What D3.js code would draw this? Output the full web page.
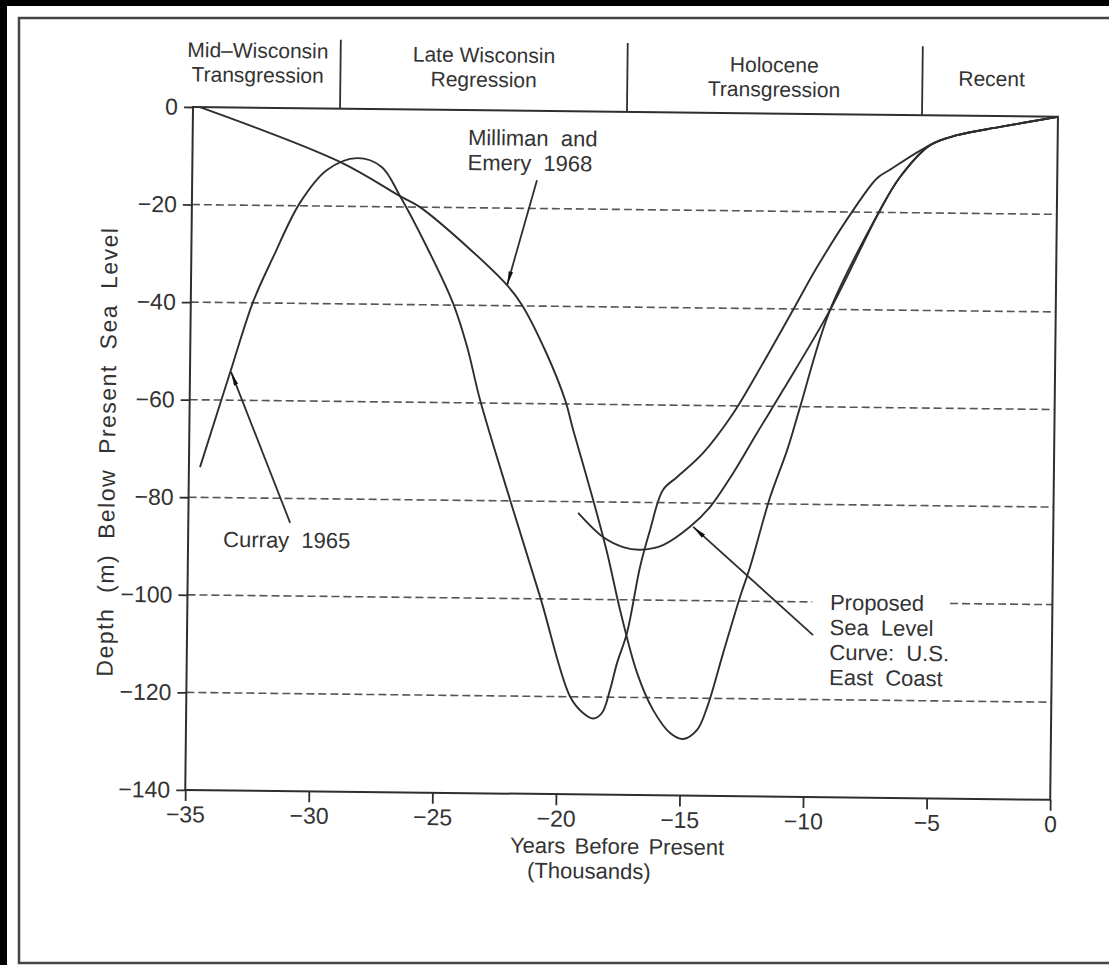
<!DOCTYPE html>
<html>
<head>
<meta charset="utf-8">
<script src="https://cdn.jsdelivr.net/npm/d3@7"></script>
<style>
  html, body { margin: 0; padding: 0; background: #fff; }
  svg { display: block; }
  text { font-family: "Liberation Sans", Arial, sans-serif; fill: #333; }
</style>
</head>
<body>
<div id="chart"></div>
<script>
// ---- data (thousands of years before present, metres) ----
var periodNames = [["Mid\u2013Wisconsin", "Transgression"], ["Late Wisconsin", "Regression"], ["Holocene", "Transgression"], ["Recent"]];
var periodBounds = [-29.05, -17.44, -5.5];
var periodLabelX = [-32.4, -23.25, -11.5, -2.7];

var xTicks = [-35, -30, -25, -20, -15, -10, -5, 0];
var yTicks = [0, -20, -40, -60, -80, -100, -120, -140];
var gridDepths = [-20, -40, -60, -80, -100, -120];

var curray1965 = [[-34.55,-73.8],[-33.38,-54.4],[-32.48,-39.8],[-31.69,-30.6],[-30.63,-19.4],[-29.55,-12.6],
  [-28.34,-10.1],[-27.35,-11.8],[-26.58,-17.8],[-25.47,-28.2],[-24.39,-39.6],[-23.80,-48.5],[-23.25,-59.4],
  [-21.99,-79.8],[-20.73,-99.6],[-19.47,-120.0],[-18.94,-123.3],[-18.53,-124.4],[-18.17,-123.2],[-17.86,-118.5],
  [-17.59,-113.0],[-17.20,-106.8],[-16.70,-93.2],[-16.31,-85.6],[-15.81,-77.4],[-15.24,-74.7],[-14.20,-69.7],
  [-13.00,-61.5],[-12.21,-54.7],[-10.63,-40.2],[-9.67,-31.3],[-8.24,-19.6],[-7.29,-13.0],[-6.79,-11.3],
  [-5.16,-6.1],[-4.07,-4.0],[-2.33,-2.2],[0,0]];

var milliman1968 = [[-34.72,0],[-29.03,-10.9],[-26.58,-17.8],[-25.77,-20.0],[-23.73,-28.5],[-22.21,-35.8],
  [-21.60,-39.8],[-20.60,-49.5],[-19.81,-59.2],[-19.47,-65.3],[-18.63,-79.6],[-18.04,-90.4],[-17.49,-102.1],
  [-16.77,-115.0],[-16.11,-122.5],[-15.41,-127.2],[-14.88,-128.4],[-14.32,-126.5],[-13.92,-121.8],[-13.30,-110.7],
  [-12.64,-99.1],[-12.25,-93.0],[-11.47,-78.6],[-10.80,-68.9],[-10.30,-60.1],[-9.13,-40.1],[-7.15,-19.5],
  [-6.36,-12.7],[-5.16,-6.1],[-4.07,-4.0],[-2.33,-2.2],[0,0]];

var proposedEastCoast = [[-19.23,-82.3],[-18.21,-87.2],[-17.40,-89.2],[-16.71,-89.7],[-15.78,-88.7],
  [-14.70,-84.9],[-13.90,-80.8],[-12.98,-73.8],[-12.03,-65.5],[-10.99,-56.6],[-9.13,-40.1],[-7.15,-19.5],
  [-6.36,-12.7],[-5.16,-6.1],[-4.07,-4.0],[-2.33,-2.2],[0,0]];

// annotations: text lines, text anchor point, arrow tail and arrow tip (data units)
var noteLines = [["Milliman and", "Emery 1968"], ["Curray 1965"], ["Proposed", "Sea Level", "Curve: U.S.", "East Coast"]];
var noteAt = [[-23.86, -7.15], [-33.58, -90.1], [-9.0, -101.6]];
var arrowFrom = [[-21.05, -14.2], [-30.88, -85.0], [-9.67, -106.8]];
var arrowTo = [[-22.21, -35.8], [-33.34, -54.2], [-14.57, -84.9]];
var gridGap = [-9.72, -4.14];   // -100 line is broken round the "Proposed" note

// ---- layout ----
var W = 1109, H = 965;
var plotW = 865, plotH = 683;
var ink = "#2e2e2e";

var svg = d3.select("#chart").append("svg")
  .attr("width", W).attr("height", H);

svg.append("rect").attr("width", W).attr("height", H).attr("fill", "#fff");
// scan border
svg.append("rect").attr("x", 0).attr("y", 0).attr("width", W).attr("height", 6).attr("fill", "#000");
svg.append("rect").attr("x", 0).attr("y", 0).attr("width", 7).attr("height", H).attr("fill", "#000");
svg.append("path")
  .attr("d", "M" + W + ",18 L19,18 L19,963 L" + W + ",963")
  .attr("fill", "none").attr("stroke", "#444").attr("stroke-width", 2.5);

// the scanned figure is slightly tilted
var g = svg.append("g").attr("transform", "translate(193,107) rotate(0.65)");

var x = d3.scaleLinear().domain([-35, 0]).range([0, plotW]);
var y = d3.scaleLinear().domain([0, -140]).range([0, plotH]);

svg.append("defs").append("marker")
  .attr("id", "head")
  .attr("markerUnits", "userSpaceOnUse")
  .attr("viewBox", "0 0 14 6")
  .attr("refX", 14).attr("refY", 3)
  .attr("markerWidth", 14).attr("markerHeight", 6)
  .attr("orient", "auto")
  .append("path").attr("d", "M0,0.8 L14,3 L0,5.2 Z").attr("fill", "#111");

// gridlines
gridDepths.forEach(function(d) {
  var segs = d === -100 ? [[-35, gridGap[0]], [gridGap[1], 0]] : [[-35, 0]];
  segs.forEach(function(s) {
    g.append("line")
      .attr("x1", x(s[0])).attr("x2", x(s[1]))
      .attr("y1", y(d)).attr("y2", y(d))
      .attr("stroke", "#555").attr("stroke-width", 1.6)
      .attr("stroke-dasharray", "8,4");
  });
});

// axes
var xAxis = d3.axisBottom(x).tickValues(xTicks).tickSize(11).tickPadding(5);
var yAxis = d3.axisLeft(y).tickValues(yTicks).tickSize(9).tickPadding(6);

var gx = g.append("g").attr("transform", "translate(0," + plotH + ")").call(xAxis);
var gy = g.append("g").call(yAxis);
[gx, gy].forEach(function(a) {
  a.select(".domain").remove();
  a.selectAll(".tick line").attr("stroke", ink).attr("stroke-width", 1.8);
  a.selectAll(".tick text").style("font-size", "23px").attr("fill", "#333");
});

g.append("rect")
  .attr("width", plotW).attr("height", plotH)
  .attr("fill", "none").attr("stroke", ink).attr("stroke-width", 2);

// period header
periodBounds.forEach(function(b) {
  g.append("line")
    .attr("x1", x(b)).attr("x2", x(b))
    .attr("y1", -69).attr("y2", 0)
    .attr("stroke", ink).attr("stroke-width", 1.8);
});
var headerTop = [-50, -48, -41.5, -30];
periodNames.forEach(function(lines, i) {
  lines.forEach(function(t, j) {
    g.append("text")
      .attr("x", x(periodLabelX[i])).attr("y", headerTop[i] + j * 24.5)
      .attr("text-anchor", "middle")
      .style("font-size", "21px")
      .text(t);
  });
});

// curves
var line = d3.line()
  .x(function(d) { return x(d[0]); })
  .y(function(d) { return y(d[1]); })
  .curve(d3.curveCatmullRom.alpha(0.5));

[curray1965, milliman1968, proposedEastCoast].forEach(function(s) {
  g.append("path")
    .attr("d", line(s))
    .attr("fill", "none").attr("stroke", ink).attr("stroke-width", 1.9)
    .attr("stroke-linejoin", "round");
});

// annotations
noteLines.forEach(function(lines, i) {
  lines.forEach(function(t, j) {
    g.append("text")
      .attr("x", x(noteAt[i][0])).attr("y", y(noteAt[i][1]) + j * 25)
      .style("font-size", "22px").style("word-spacing", "6px")
      .text(t);
  });
  g.append("line")
    .attr("x1", x(arrowFrom[i][0])).attr("y1", y(arrowFrom[i][1]))
    .attr("x2", x(arrowTo[i][0])).attr("y2", y(arrowTo[i][1]))
    .attr("stroke", ink).attr("stroke-width", 1.8)
    .attr("marker-end", "url(#head)");
});

// axis titles
g.append("text")
  .attr("transform", "translate(-82," + (plotH / 2 + 4) + ") rotate(-90)")
  .attr("text-anchor", "middle").attr("dy", "0.35em")
  .style("font-size", "23px").style("letter-spacing", "1.5px").style("word-spacing", "7px")
  .text("Depth (m) Below Present Sea Level");

g.append("text")
  .attr("x", plotW / 2).attr("y", plotH + 59)
  .attr("text-anchor", "middle")
  .style("font-size", "22px").style("word-spacing", "3px")
  .text("Years Before Present");
g.append("text")
  .attr("x", plotW / 2 - 28).attr("y", plotH + 84)
  .attr("text-anchor", "middle")
  .style("font-size", "22px")
  .text("(Thousands)");
</script>
</body>
</html>
